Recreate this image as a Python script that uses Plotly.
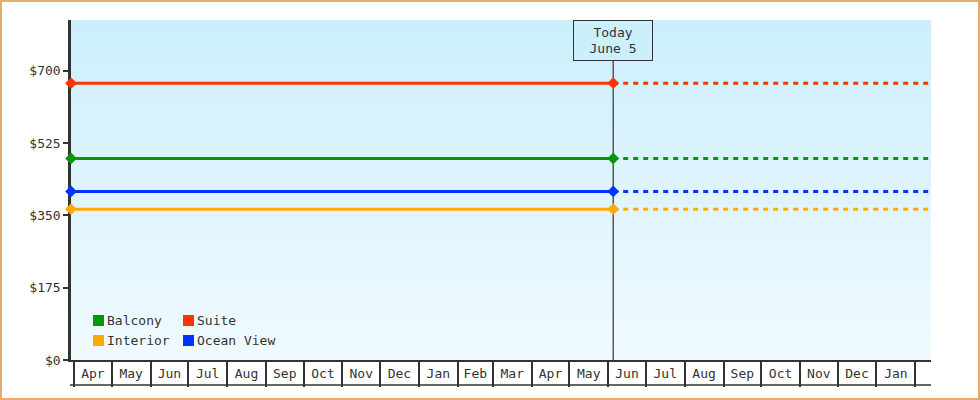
import plotly.graph_objects as go

# cabin prices (flat)
series = ["Balcony", "Suite", "Interior", "Ocean View"]
prices = [488, 670, 365, 408]
colors = ["#009900", "#FF3300", "#FFAA00", "#0033FF"]

start_date = "2018-03-29 12:00"
today = "2019-06-05"
end_date = "2020-02-13 12:00"
today_label = "Today<br>June 5"

y_ticks = [0, 175, 350, 525, 700]
y_labels = ["&#36;%d" % v for v in y_ticks]
y_max = 823

W, H = 980, 400
ML, MR, MT, MB = 71, 49, 20, 40
PW, PH = W - ML - MR, H - MT - MB


def px_x(x):
    return (x - ML) / PW


def px_y(y):
    return (H - MB - y) / PH


font = "DejaVu Sans Mono"
ink = "#333333"

fig = go.Figure()

for name, price, color in zip(series, prices, colors):
    fig.add_trace(go.Scatter(
        x=[start_date, today], y=[price, price], mode="lines+markers", name=name,
        line=dict(color=color, width=3), marker=dict(symbol="diamond", size=9, color=color),
        cliponaxis=False, showlegend=False))
    fig.add_trace(go.Scatter(
        x=[today, end_date], y=[price, price], mode="lines", name=name,
        line=dict(color=color, width=3, dash="5px,5px"), showlegend=False))

shapes = []
# vertical gradient background
top = (204, 239, 252)
bot = (240, 250, 255)
n = 68
for i in range(n):
    t = i / (n - 1)
    c = tuple(round(bot[k] + (top[k] - bot[k]) * t) for k in range(3))
    shapes.append(dict(type="rect", xref="paper", yref="paper", x0=0, x1=1,
                       y0=i / n, y1=(i + 1) / n, fillcolor="rgb(%d,%d,%d)" % c,
                       line=dict(width=0), layer="below"))

# today marker line
shapes.append(dict(type="line", xref="x", yref="paper", x0=today, x1=today, y0=0, y1=1,
                   line=dict(color=ink, width=1.2), layer="below"))
# bottom edge of the month strip
shapes.append(dict(type="line", xref="paper", yref="paper", x0=px_x(70), x1=1,
                   y0=px_y(385), y1=px_y(385), line=dict(color=ink, width=1.5)))
# outer frame
shapes.append(dict(type="rect", xref="paper", yref="paper", x0=px_x(1), x1=px_x(979),
                   y0=px_y(399), y1=px_y(1), line=dict(color="#E8AB6A", width=2)))

annotations = [dict(x=today, y=1, xref="x", yref="paper", yanchor="top", text=today_label,
                    showarrow=False, font=dict(family=font, size=13, color=ink),
                    bordercolor=ink, borderwidth=1, borderpad=0, bgcolor="rgb(204,239,252)",
                    width=78, height=39)]

# hand-drawn legend, two columns
for i, (name, color) in enumerate(zip(series, colors)):
    x0 = 93 + 90 * (i % 2)
    y0 = 315 + 20 * (i // 2)
    shapes.append(dict(type="rect", xref="paper", yref="paper", x0=px_x(x0), x1=px_x(x0 + 11),
                       y0=px_y(y0 + 11), y1=px_y(y0), fillcolor=color, line=dict(width=0)))
    annotations.append(dict(x=px_x(x0 + 12), y=px_y(y0 + 5.5), xref="paper", yref="paper",
                            xanchor="left", yanchor="middle", text=name, showarrow=False,
                            font=dict(family=font, size=13, color=ink)))

fig.update_layout(
    width=W, height=H, autosize=False,
    margin=dict(l=ML, r=MR, t=MT, b=MB),
    paper_bgcolor="white", plot_bgcolor="rgb(240,250,255)",
    font=dict(family=font, size=13, color=ink),
    shapes=shapes, annotations=annotations,
    xaxis=dict(type="date", range=[start_date, end_date], tick0="2018-04-01", dtick="M1",
               tickformat="%b", ticklabelmode="period", ticks="outside", ticklen=25,
               tickwidth=1.5, tickcolor=ink, ticklabelstandoff=-24, showgrid=False,
               showline=True, linecolor=ink, linewidth=1.5, zeroline=False,
               layer="below traces"),
    yaxis=dict(range=[0, y_max], tickvals=y_ticks, ticktext=y_labels, ticks="outside",
               ticklen=5, tickwidth=2, tickcolor=ink, showgrid=False, zeroline=False,
               showline=True, linecolor=ink, linewidth=2.5, layer="below traces"),
)

fig.write_html("out.html", config={"displayModeBar": False},
               post_script="document.body.style.margin = '0';")
